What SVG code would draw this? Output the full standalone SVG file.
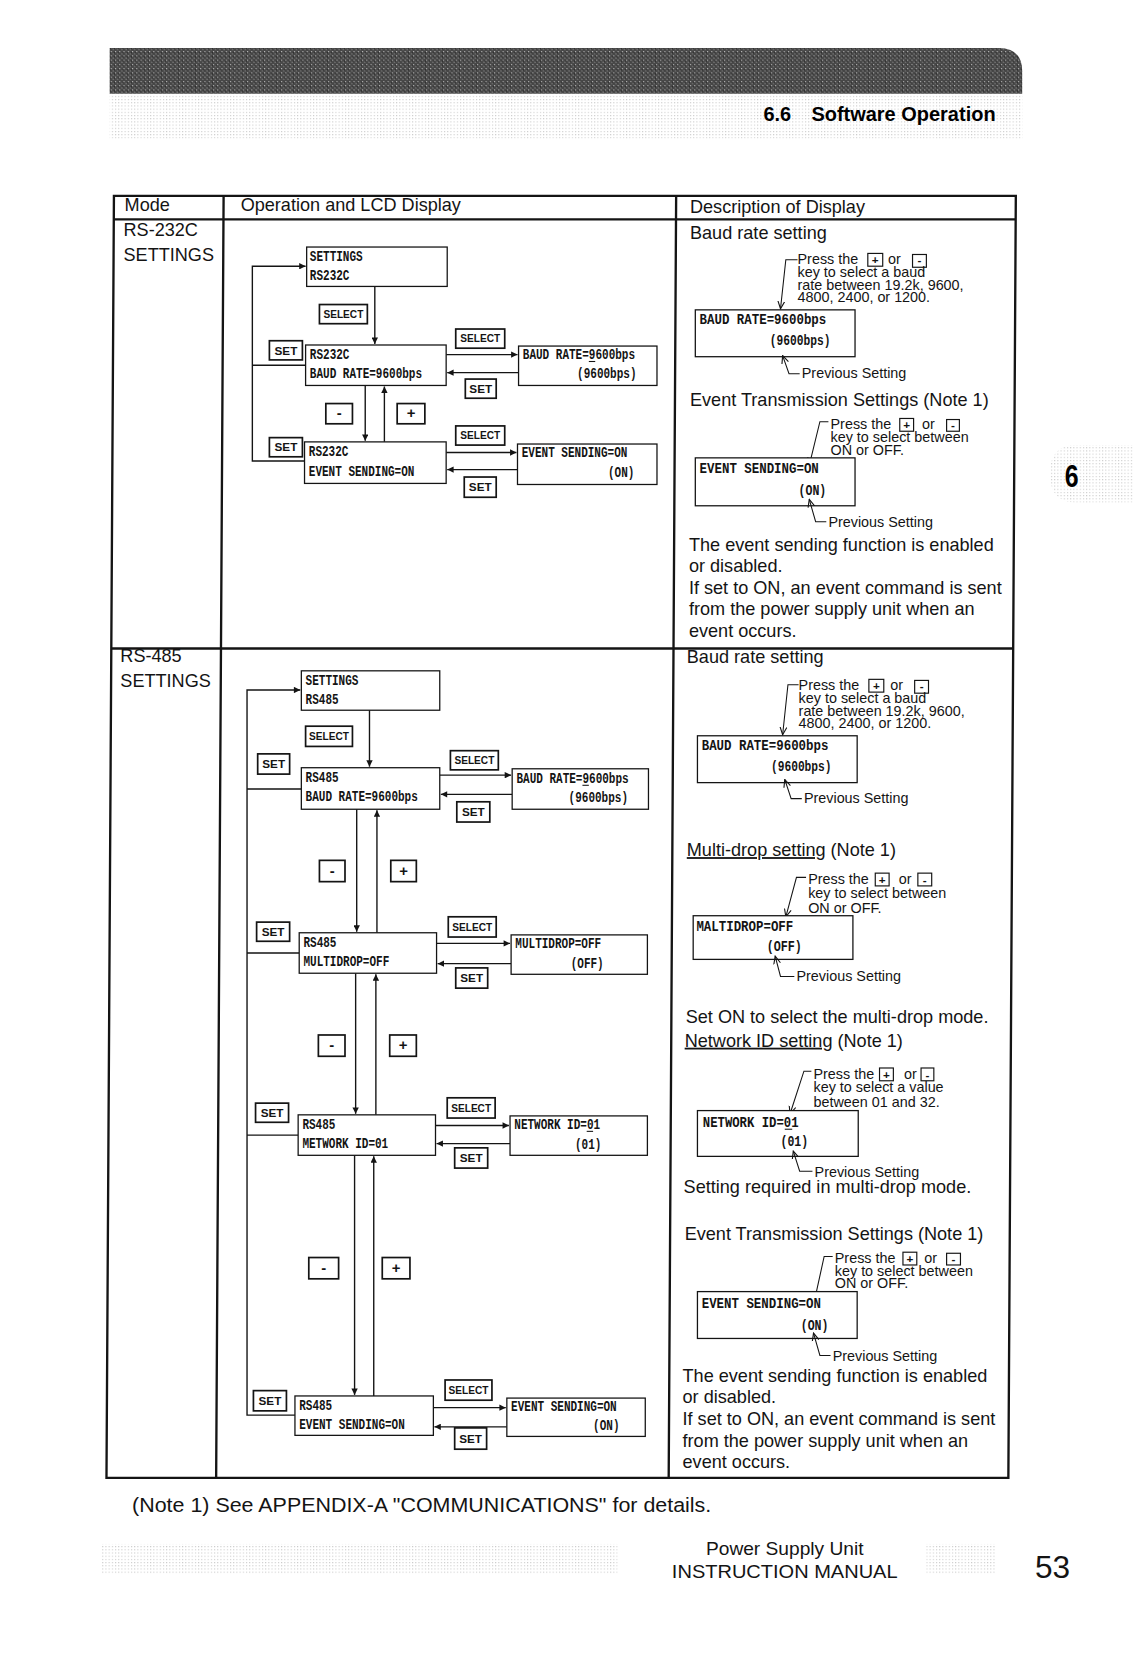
<svg xmlns="http://www.w3.org/2000/svg" width="1134" height="1669" viewBox="0 0 1134 1669">
<style>
.t{font-family:"Liberation Sans",Arial,sans-serif;font-size:17px;fill:#141414}
.s{font-family:"Liberation Sans",Arial,sans-serif;font-size:13.5px;fill:#141414}
.lcd{font-family:"Liberation Mono","DejaVu Sans Mono",monospace;font-weight:bold;font-size:13px;fill:#141414}
.lcd2{font-family:"Liberation Mono","DejaVu Sans Mono",monospace;font-weight:bold;font-size:14px;fill:#141414}
.box{fill:#fff;stroke:#141414;stroke-width:1.2}
.tb{fill:none;stroke:#141414;stroke-width:2.2}
.ln{fill:none;stroke:#141414;stroke-width:1.3}
.cl{fill:none;stroke:#141414;stroke-width:1}
.btn rect{fill:#fff;stroke:#141414;stroke-width:1.6}
.btn text{font-family:"Liberation Sans",Arial,sans-serif;font-weight:bold;font-size:9.5px;text-anchor:middle;fill:#141414}
.btn text.k{font-size:11px}
.btn text.p{font-size:14px}
.key{fill:#fff;stroke:#141414;stroke-width:1.1}
.kt{font-family:"Liberation Sans",Arial,sans-serif;font-weight:bold;font-size:11px;text-anchor:middle;fill:#141414}
</style>
<defs>
<pattern id="dk" width="4" height="4" patternUnits="userSpaceOnUse"><rect width="4" height="4" fill="#474747"/><rect x="0" y="0" width="1" height="1" fill="#bdbdbd"/><rect x="2" y="2" width="1" height="1" fill="#9a9a9a"/><rect x="3" y="1" width="1" height="1" fill="#222"/></pattern>
<pattern id="lt" width="3" height="3" patternUnits="userSpaceOnUse"><rect width="1" height="1" fill="#c9c9c9"/></pattern>
<marker id="ah" viewBox="0 0 10 10" refX="10" refY="5" markerWidth="7" markerHeight="6" orient="auto" markerUnits="userSpaceOnUse"><path d="M0,0 L10,5 L0,10 z" fill="#141414"/></marker>
<marker id="oa" viewBox="0 0 10 10" refX="9" refY="5" markerWidth="8" markerHeight="8" orient="auto-start-reverse" markerUnits="userSpaceOnUse"><path d="M0,1 L9,5 L0,9" fill="none" stroke="#141414" stroke-width="1.3"/></marker>
</defs>
<rect width="1134" height="1669" fill="#fff"/>
<g transform="scale(1.0648)">
<!-- header -->
<g id="header">
<rect x="103" y="88" width="857" height="42" fill="url(#lt)"/>
<path d="M103,45 H938 Q960,45 960,67 V88 H103 Z" fill="url(#dk)"/>
<text x="717" y="114" style="font-family:'Liberation Sans',Arial,sans-serif;font-weight:bold;font-size:19px" textLength="26" lengthAdjust="spacingAndGlyphs">6.6</text>
<text x="762" y="114" style="font-family:'Liberation Sans',Arial,sans-serif;font-weight:bold;font-size:19px" textLength="173" lengthAdjust="spacingAndGlyphs">Software Operation</text>
</g>
<g id="sidetab">
<path d="M1010,418 H1065 V472 H1010 Q986,472 986,445 Q986,418 1010,418 Z" fill="url(#lt)"/>
<text x="1000" y="457" style="font-family:'Liberation Sans',Arial,sans-serif;font-weight:bold;font-size:30px" textLength="13" lengthAdjust="spacingAndGlyphs">6</text>
</g>
<!-- table -->
<g id="table">
<path class="tb" d="M107,184 H954 L947,1388 H100 Z"/>
<path class="tb" d="M210,184 L203,1388 M635,184 L628,1388 M107,206 H954 M104.5,609 H951.5"/>
<text class="t" x="117" y="198">Mode</text>
<text class="t" x="226" y="198">Operation and LCD Display</text>
<text class="t" x="648" y="200">Description of Display</text>
<text class="t" x="116" y="222">RS-232C</text>
<text class="t" x="116" y="245">SETTINGS</text>
<text class="t" x="113" y="622">RS-485</text>
<text class="t" x="113" y="645">SETTINGS</text>
</g>
<!-- connectors -->
<g id="connectors" class="ln">
<path d="M286,433 H237 V250 H287" marker-end="url(#ah)"/>
<path d="M237,343 H287"/>
<path d="M352,269 V323" marker-end="url(#ah)"/>
<path d="M419,333 H486" marker-end="url(#ah)"/>
<path d="M487,350 H420" marker-end="url(#ah)"/>
<path d="M343,362 V414" marker-end="url(#ah)"/>
<path d="M361,415 V363" marker-end="url(#ah)"/>
<path d="M419,425 H485" marker-end="url(#ah)"/>
<path d="M486,441 H420" marker-end="url(#ah)"/>
<path d="M277,1329 H232 V648 H282" marker-end="url(#ah)"/>
<path d="M232,741 H283 M232,895 H281 M232,1066 H280"/>
<path d="M347,667 V720" marker-end="url(#ah)"/>
<path d="M413,728 H480" marker-end="url(#ah)"/>
<path d="M481,746 H414" marker-end="url(#ah)"/>
<path d="M335,760 V875" marker-end="url(#ah)"/>
<path d="M354,876 V761" marker-end="url(#ah)"/>
<path d="M410,886 H479" marker-end="url(#ah)"/>
<path d="M480,905 H411" marker-end="url(#ah)"/>
<path d="M334,914 V1046" marker-end="url(#ah)"/>
<path d="M353,1047 V915" marker-end="url(#ah)"/>
<path d="M409,1057 H478" marker-end="url(#ah)"/>
<path d="M479,1074 H410" marker-end="url(#ah)"/>
<path d="M333,1085 V1310" marker-end="url(#ah)"/>
<path d="M351,1311 V1086" marker-end="url(#ah)"/>
<path d="M407,1322 H475" marker-end="url(#ah)"/>
<path d="M476,1340 H408" marker-end="url(#ah)"/>
</g>
<!-- RS-232C nodes -->
<g id="n232-settings"><rect class="box" x="288" y="232" width="132" height="37"/><text class="lcd" x="291" y="245" textLength="49.6" lengthAdjust="spacingAndGlyphs">SETTINGS</text><text class="lcd" x="291" y="263" textLength="37.2" lengthAdjust="spacingAndGlyphs">RS232C</text></g>
<g id="n232-baud"><rect class="box" x="287" y="324" width="132" height="38"/><text class="lcd" x="291" y="337" textLength="37.2" lengthAdjust="spacingAndGlyphs">RS232C</text><text class="lcd" x="291" y="355" textLength="105.4" lengthAdjust="spacingAndGlyphs">BAUD RATE=9600bps</text></g>
<g id="n232-event"><rect class="box" x="286" y="415" width="133" height="39"/><text class="lcd" x="290" y="428" textLength="37.2" lengthAdjust="spacingAndGlyphs">RS232C</text><text class="lcd" x="290" y="447" textLength="99.2" lengthAdjust="spacingAndGlyphs">EVENT SENDING=ON</text></g>
<g id="n232-baud-edit"><rect class="box" x="487" y="325" width="130" height="37"/><text class="lcd" x="491" y="337" textLength="105.4" lengthAdjust="spacingAndGlyphs">BAUD RATE=9600bps</text><path class="cl" d="M553,339.5 H559"/><text class="lcd" x="542" y="355" textLength="55.8" lengthAdjust="spacingAndGlyphs">(9600bps)</text></g>
<g id="n232-event-edit"><rect class="box" x="486" y="417" width="131" height="38"/><text class="lcd" x="490" y="429" textLength="99.2" lengthAdjust="spacingAndGlyphs">EVENT SENDING=ON</text><text class="lcd" x="571" y="448" textLength="24.8" lengthAdjust="spacingAndGlyphs">(ON)</text></g>
<!-- RS-232C buttons -->
<g id="b232" class="btn">
<rect x="300" y="286" width="45" height="18"/><text x="322.5" y="298.5">SELECT</text>
<rect x="253" y="320" width="31" height="18"/><text class="k" x="268.5" y="333">SET</text>
<rect x="428" y="309" width="46" height="18"/><text x="451" y="321.5">SELECT</text>
<rect x="437" y="356" width="29" height="18"/><text class="k" x="451.5" y="369">SET</text>
<rect x="306" y="379" width="25" height="19"/><text class="p" x="318.5" y="393">-</text>
<rect x="373" y="379" width="26" height="19"/><text class="p" x="386" y="393">+</text>
<rect x="253" y="411" width="31" height="18"/><text class="k" x="268.5" y="424">SET</text>
<rect x="428" y="400" width="46" height="18"/><text x="451" y="412.5">SELECT</text>
<rect x="436" y="448" width="30" height="19"/><text class="k" x="451" y="461.5">SET</text>
</g>
<!-- RS-485 nodes -->
<g id="n485-settings"><rect class="box" x="283" y="630" width="130" height="37"/><text class="lcd" x="287" y="643" textLength="49.6" lengthAdjust="spacingAndGlyphs">SETTINGS</text><text class="lcd" x="287" y="661" textLength="31" lengthAdjust="spacingAndGlyphs">RS485</text></g>
<g id="n485-baud"><rect class="box" x="283" y="721" width="130" height="39"/><text class="lcd" x="287" y="734" textLength="31" lengthAdjust="spacingAndGlyphs">RS485</text><text class="lcd" x="287" y="752" textLength="105.4" lengthAdjust="spacingAndGlyphs">BAUD RATE=9600bps</text></g>
<g id="n485-multidrop"><rect class="box" x="281" y="876" width="129" height="38"/><text class="lcd" x="285" y="889" textLength="31" lengthAdjust="spacingAndGlyphs">RS485</text><text class="lcd" x="285" y="907" textLength="80.6" lengthAdjust="spacingAndGlyphs">MULTIDROP=OFF</text></g>
<g id="n485-network"><rect class="box" x="280" y="1047" width="129" height="38"/><text class="lcd" x="284" y="1060" textLength="31" lengthAdjust="spacingAndGlyphs">RS485</text><text class="lcd" x="284" y="1078" textLength="80.6" lengthAdjust="spacingAndGlyphs">METWORK ID=01</text></g>
<g id="n485-event"><rect class="box" x="277" y="1311" width="130" height="37"/><text class="lcd" x="281" y="1324" textLength="31" lengthAdjust="spacingAndGlyphs">RS485</text><text class="lcd" x="281" y="1342" textLength="99.2" lengthAdjust="spacingAndGlyphs">EVENT SENDING=ON</text></g>
<g id="n485-baud-edit"><rect class="box" x="481" y="722" width="128" height="38"/><text class="lcd" x="485" y="735" textLength="105.4" lengthAdjust="spacingAndGlyphs">BAUD RATE=9600bps</text><path class="cl" d="M547,737.5 H553"/><text class="lcd" x="534" y="753" textLength="55.8" lengthAdjust="spacingAndGlyphs">(9600bps)</text></g>
<g id="n485-multidrop-edit"><rect class="box" x="480" y="878" width="128" height="37"/><text class="lcd" x="484" y="890" textLength="80.6" lengthAdjust="spacingAndGlyphs">MULTIDROP=OFF</text><text class="lcd" x="536" y="909" textLength="31" lengthAdjust="spacingAndGlyphs">(OFF)</text></g>
<g id="n485-network-edit"><rect class="box" x="479" y="1048" width="129" height="37"/><text class="lcd" x="483" y="1060" textLength="80.6" lengthAdjust="spacingAndGlyphs">NETWORK ID=01</text><path class="cl" d="M551,1062.5 H557"/><text class="lcd" x="540" y="1079" textLength="24.8" lengthAdjust="spacingAndGlyphs">(01)</text></g>
<g id="n485-event-edit"><rect class="box" x="476" y="1313" width="130" height="36"/><text class="lcd" x="480" y="1325" textLength="99.2" lengthAdjust="spacingAndGlyphs">EVENT SENDING=ON</text><text class="lcd" x="557" y="1343" textLength="24.8" lengthAdjust="spacingAndGlyphs">(ON)</text></g>
<!-- RS-485 buttons -->
<g id="b485" class="btn">
<rect x="287" y="682" width="44" height="19"/><text x="309" y="695">SELECT</text>
<rect x="242" y="708" width="30" height="19"/><text class="k" x="257" y="721.5">SET</text>
<rect x="423" y="705" width="45" height="18"/><text x="445.5" y="717.5">SELECT</text>
<rect x="429" y="753" width="31" height="19"/><text class="k" x="444.5" y="766.5">SET</text>
<rect x="300" y="808" width="24" height="20"/><text class="p" x="312" y="822.5">-</text>
<rect x="367" y="808" width="24" height="20"/><text class="p" x="379" y="822.5">+</text>
<rect x="241" y="866" width="31" height="18"/><text class="k" x="256.5" y="879">SET</text>
<rect x="421" y="861" width="45" height="19"/><text x="443.5" y="874">SELECT</text>
<rect x="428" y="909" width="30" height="19"/><text class="k" x="443" y="922.5">SET</text>
<rect x="299" y="972" width="25" height="20"/><text class="p" x="311.5" y="986.5">-</text>
<rect x="366" y="972" width="25" height="20"/><text class="p" x="378.5" y="986.5">+</text>
<rect x="240" y="1036" width="31" height="18"/><text class="k" x="255.5" y="1049">SET</text>
<rect x="420" y="1031" width="45" height="19"/><text x="442.5" y="1044">SELECT</text>
<rect x="427" y="1078" width="31" height="19"/><text class="k" x="442.5" y="1091.5">SET</text>
<rect x="290" y="1181" width="28" height="20"/><text class="p" x="304" y="1195.5">-</text>
<rect x="359" y="1181" width="26" height="20"/><text class="p" x="372" y="1195.5">+</text>
<rect x="238" y="1306" width="31" height="19"/><text class="k" x="253.5" y="1319.5">SET</text>
<rect x="418" y="1296" width="44" height="19"/><text x="440" y="1309">SELECT</text>
<rect x="427" y="1341" width="30" height="20"/><text class="k" x="442" y="1355">SET</text>
</g>
<!-- RS-232C description -->
<g id="d232">
<text class="t" x="648" y="224">Baud rate setting</text>
<text class="s" x="749" y="248">Press  the</text><rect class="key" x="815" y="238" width="14" height="12"/><text class="kt" x="822" y="248">+</text><text class="s" x="834" y="248">or</text><rect class="key" x="857" y="239" width="13" height="12"/><text class="kt" x="863.5" y="248">-</text>
<text class="s" x="749" y="260">key to select  a baud</text>
<text class="s" x="749" y="272">rate between 19.2k, 9600,</text>
<text class="s" x="749" y="284">4800, 2400, or 1200.</text>
<path class="cl" d="M749,244 H738 L733,290" marker-end="url(#oa)"/>
<rect class="box" x="653" y="291" width="150" height="44"/>
<text class="lcd2" x="657" y="304" textLength="119" lengthAdjust="spacingAndGlyphs">BAUD RATE=9600bps</text>
<text class="lcd2" x="723" y="324" textLength="57" lengthAdjust="spacingAndGlyphs">(9600bps)</text>
<path class="cl" d="M735,334 L741,351 H751" marker-start="url(#oa)"/>
<text class="s" x="753" y="355">Previous Setting</text>
<text class="t" x="648" y="381">Event Transmission Settings (Note 1)</text>
<text class="s" x="780" y="403">Press  the</text><rect class="key" x="845" y="393" width="13" height="12"/><text class="kt" x="851.5" y="403">+</text><text class="s" x="866" y="403">or</text><rect class="key" x="889" y="394" width="12" height="11"/><text class="kt" x="895" y="403">-</text>
<text class="s" x="780" y="415">key to select  between</text>
<text class="s" x="780" y="427">ON or OFF.</text>
<path class="cl" d="M778,396 H770 L760,437" marker-end="url(#oa)"/>
<rect class="box" x="653" y="430" width="150" height="45"/>
<text class="lcd2" x="657" y="444" textLength="112" lengthAdjust="spacingAndGlyphs">EVENT SENDING=ON</text>
<text class="lcd2" x="750" y="465" textLength="26" lengthAdjust="spacingAndGlyphs">(ON)</text>
<path class="cl" d="M760,469 L766,490 H776" marker-start="url(#oa)"/>
<text class="s" x="778" y="495">Previous Setting</text>
<text class="t" x="647" y="517">The event sending function is enabled</text>
<text class="t" x="647" y="537">or disabled.</text>
<text class="t" x="647" y="558">If set to ON, an event command is sent</text>
<text class="t" x="647" y="578">from the power supply unit when an</text>
<text class="t" x="647" y="598">event occurs.</text>
</g>
<!-- RS-485 description -->
<g id="d485">
<text class="t" x="645" y="623">Baud rate setting</text>
<text class="s" x="750" y="648">Press  the</text><rect class="key" x="816" y="638" width="14" height="12"/><text class="kt" x="823" y="648">+</text><text class="s" x="836" y="648">or</text><rect class="key" x="859" y="639" width="13" height="12"/><text class="kt" x="865.5" y="648">-</text>
<text class="s" x="750" y="660">key to select  a baud</text>
<text class="s" x="750" y="672">rate between 19.2k, 9600,</text>
<text class="s" x="750" y="684">4800, 2400, or 1200.</text>
<path class="cl" d="M750,643 H740 L735,690" marker-end="url(#oa)"/>
<rect class="box" x="655" y="691" width="150" height="44"/>
<text class="lcd2" x="659" y="704" textLength="119" lengthAdjust="spacingAndGlyphs">BAUD RATE=9600bps</text>
<text class="lcd2" x="724" y="724" textLength="57" lengthAdjust="spacingAndGlyphs">(9600bps)</text>
<path class="cl" d="M737,732 L743,750 H753" marker-start="url(#oa)"/>
<text class="s" x="755" y="754">Previous Setting</text>
<text class="t" x="645" y="804"><tspan text-decoration="underline">Multi-drop setting</tspan> (Note 1)</text>
<text class="s" x="759" y="830">Press the</text><rect class="key" x="822" y="820" width="13" height="12"/><text class="kt" x="828.5" y="830">+</text><text class="s" x="844" y="830">or</text><rect class="key" x="862" y="820" width="13" height="12"/><text class="kt" x="868.5" y="830">-</text>
<text class="s" x="759" y="843">key to select between</text>
<text class="s" x="759" y="857">ON or OFF.</text>
<path class="cl" d="M757,824 H748 L738,861" marker-end="url(#oa)"/>
<rect class="box" x="651" y="860" width="150" height="41"/>
<text class="lcd2" x="654" y="874" textLength="91" lengthAdjust="spacingAndGlyphs">MALTIDROP=OFF</text>
<text class="lcd2" x="720" y="893" textLength="33" lengthAdjust="spacingAndGlyphs">(OFF)</text>
<path class="cl" d="M728,898 L733,917 H746" marker-start="url(#oa)"/>
<text class="s" x="748" y="921">Previous Setting</text>
<text class="t" x="644" y="961">Set ON to select the multi-drop mode.</text>
<text class="t" x="643" y="983"><tspan text-decoration="underline">Network ID setting</tspan> (Note 1)</text>
<text class="s" x="764" y="1013">Press the</text><rect class="key" x="826" y="1003" width="13" height="12"/><text class="kt" x="832.5" y="1013">+</text><text class="s" x="849" y="1013">or</text><rect class="key" x="865" y="1003" width="12" height="12"/><text class="kt" x="871" y="1013">-</text>
<text class="s" x="764" y="1026">key to select a value</text>
<text class="s" x="764" y="1040">between 01 and 32.</text>
<path class="cl" d="M762,1006 H755 L742,1046" marker-end="url(#oa)"/>
<rect class="box" x="655" y="1043" width="151" height="43"/>
<text class="lcd2" x="660" y="1058" textLength="90" lengthAdjust="spacingAndGlyphs">NETWORK ID=01</text>
<path class="cl" d="M737,1060.5 H744"/>
<text class="lcd2" x="733" y="1076" textLength="26" lengthAdjust="spacingAndGlyphs">(01)</text>
<path class="cl" d="M745,1081 L751,1100 H763" marker-start="url(#oa)"/>
<text class="s" x="765" y="1105">Previous Setting</text>
<text class="t" x="642" y="1120">Setting required in multi-drop mode.</text>
<text class="t" x="643" y="1165">Event Transmission Settings (Note 1)</text>
<text class="s" x="784" y="1186">Press  the</text><rect class="key" x="848" y="1176" width="13" height="12"/><text class="kt" x="854.5" y="1186">+</text><text class="s" x="868" y="1186">or</text><rect class="key" x="889" y="1177" width="13" height="11"/><text class="kt" x="895.5" y="1186">-</text>
<text class="s" x="784" y="1198">key to select  between</text>
<text class="s" x="784" y="1210">ON or OFF.</text>
<path class="cl" d="M782,1180 H774 L765,1221" marker-end="url(#oa)"/>
<rect class="box" x="655" y="1213" width="150" height="44"/>
<text class="lcd2" x="659" y="1228" textLength="112" lengthAdjust="spacingAndGlyphs">EVENT SENDING=ON</text>
<text class="lcd2" x="752" y="1249" textLength="26" lengthAdjust="spacingAndGlyphs">(ON)</text>
<path class="cl" d="M764,1252 L770,1273 H780" marker-start="url(#oa)"/>
<text class="s" x="782" y="1278">Previous Setting</text>
<text class="t" x="641" y="1298">The event sending function is enabled</text>
<text class="t" x="641" y="1318">or disabled.</text>
<text class="t" x="641" y="1338">If set to ON, an event command is sent</text>
<text class="t" x="641" y="1359">from the power supply unit when an</text>
<text class="t" x="641" y="1379">event occurs.</text>
</g>
<!-- footer -->
<g id="footer">
<text x="124" y="1420" style="font-family:'Liberation Sans',Arial,sans-serif;font-size:18.5px;fill:#141414" textLength="544" lengthAdjust="spacingAndGlyphs">(Note 1)  See APPENDIX-A "COMMUNICATIONS" for details.</text>
<rect x="95" y="1450" width="485" height="28" fill="url(#lt)"/>
<rect x="870" y="1450" width="65" height="28" fill="url(#lt)"/>
<text x="737" y="1460" text-anchor="middle" style="font-family:'Liberation Sans',Arial,sans-serif;font-size:17px;fill:#141414" textLength="148" lengthAdjust="spacingAndGlyphs">Power Supply Unit</text>
<text x="631" y="1482" style="font-family:'Liberation Sans',Arial,sans-serif;font-size:17px;fill:#141414" textLength="212" lengthAdjust="spacingAndGlyphs">INSTRUCTION MANUAL</text>
<text x="972" y="1482" style="font-family:'Liberation Sans',Arial,sans-serif;font-size:30px;fill:#141414" textLength="33" lengthAdjust="spacingAndGlyphs">53</text>
</g>
</g>
</svg>
